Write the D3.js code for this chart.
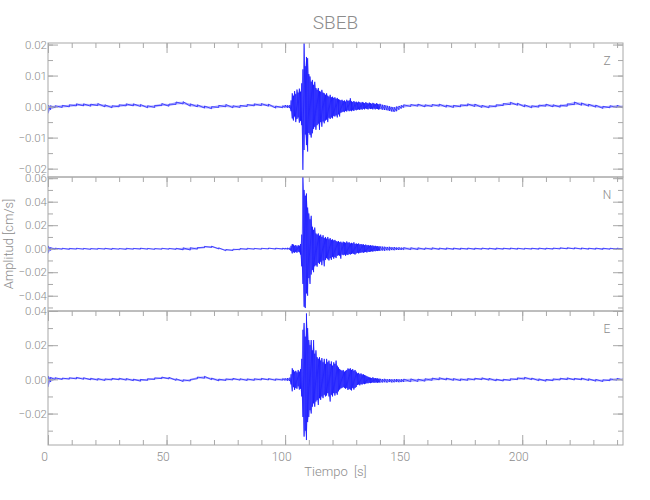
<!DOCTYPE html>
<html><head><meta charset="utf-8">
<script src="https://cdn.jsdelivr.net/npm/d3@7"></script>
<style>body{margin:0;background:#fff}</style>
</head><body><svg id="c" width="650" height="500"></svg>
<script>
// ---------------- DATA ----------------
const title = "SBEB";
const components = ["Z", "N", "E"];
// sample times in seconds (coarse in quiet parts, fine in the strong-motion part)
const timeS = [
 0,1,3,6,9,12,15,18,21,24,27,30,33,36,39,42,45,48,51,54,57,60,63,66,69,72,75,78,81,84,87,90,93,96,99,100,101,
 102,102.5,103,103.5,104,104.5,105,105.5,106,106.5,107,107.5,108,108.5,109,109.5,110,110.5,111,111.5,
 112,112.5,113,113.5,114,114.5,115,115.5,116,116.5,117,117.5,118,118.5,119,119.5,120,120.5,121,121.5,
 122,122.5,123,123.5,124,124.5,125,125.5,126,126.5,127,127.5,128,128.5,129,129.5,130,130.5,131,131.5,
 132,132.5,133,133.5,134,134.5,135,135.5,136,136.5,137,137.5,138,138.5,139,139.5,140,
 141,142,143,144,145,146,147,148,149,150,
 153,156,159,162,165,168,171,174,177,180,183,186,189,192,195,198,201,204,207,210,213,216,219,222,225,228,231,234,237,240,242.5
];
// per-sample max / min of each trace, in units of 0.001 cm/s
const zHi = [
 0.5,0.3,0.3,0.4,0.6,0.9,0.9,0.8,1.0,0.6, 0.3,0.6,0.9,0.9,0.7,0.3,0.4,1.0,0.8,1.5, 1.6,0.9,0.6,0.2,0.0,0.4,0.7,0.3,0.4,0.7, 0.9,1.0,0.8,0.2,0.3,0.5,0.4,
 0.5,2.0,4.3,3.5,5.0,4.0,5.5,4.5,5.8,4.8, 7.5,12.0,20.4,13.0,16.0,15.6,10.5,9.7,8.0,8.6, 7.0,8.0,6.0,5.4,6.0,5.0,4.8,5.4,4.5,4.3,
 3.8,4.3,3.5,3.2,3.8,3.0,3.2,2.8,3.0,2.5, 2.8,2.4,2.2,2.0,2.2,1.8,2.0,1.6,2.2,1.8, 2.0,2.7,1.7,1.5,1.8,1.4,1.6,1.3,1.6,1.4,
 1.2,1.5,1.3,1.1,1.4,1.2,1.0,1.3,1.1,0.9, 1.2,1.0,0.8,1.1,0.9,0.7,0.9,
 0.6,0.5,0.3,0.1,-0.1,-0.2,0.0,0.2,0.4,0.6,
 0.7,0.8,0.6,0.7,0.8,0.5,0.4,0.6,0.9,0.8, 0.4,0.3,0.6,1.0,1.4,1.1,0.6,0.3,0.5,0.8, 0.6,0.5,0.9,1.5,1.2,0.8,0.5,0.1,0.3,0.4, 0.3
];
const zLo = [
 -2.2,-1.0,-0.4,-0.3,-0.1,0.2,0.2,0.1,0.3,-0.1, -0.4,-0.1,0.2,0.2,0.0,-0.4,-0.3,0.3,0.1,0.7, 0.8,0.1,-0.1,-0.5,-0.7,-0.3,-0.1,-0.4,-0.3,0.0, 0.2,0.3,0.1,-0.5,-0.4,-0.3,-0.4,
 -0.5,-1.5,-3.8,-4.5,-3.2,-5.0,-4.0,-3.5,-5.2,-4.6, -6.0,-20.4,-14.0,-9.0,-12.4,-14.5,-8.5,-9.1,-10.0,-8.6, -7.2,-6.5,-7.5,-6.0,-5.5,-7.5,-5.0,-6.5,-4.8,-5.4,
 -4.5,-4.2,-5.0,-3.6,-4.0,-3.5,-3.8,-3.0,-3.2,-2.8, -3.5,-2.5,-3.2,-2.0,-1.8,-1.6,-1.8,-1.4,-1.6,-1.2, -1.5,-1.3,-1.5,-1.2,-1.4,-1.0,-1.2,-1.0,-0.9,-1.1,
 -0.8,-1.0,-0.7,-0.9,-0.6,-0.8,-0.9,-0.6,-0.8,-0.7, -0.9,-0.6,-0.9,-0.7,-0.8,-1.0,-0.8,
 -1.0,-1.1,-1.2,-1.4,-1.6,-1.7,-1.5,-1.0,-0.6,-0.3,
 0.0,0.1,-0.1,0.0,0.1,-0.2,-0.3,-0.1,0.2,0.0, -0.3,-0.4,-0.1,0.3,0.6,0.4,-0.1,-0.4,-0.2,0.1, -0.1,-0.2,0.1,0.6,0.4,0.1,-0.2,-0.6,-0.4,-0.3, -0.4
];
const nHi = [
 2.5,1.0,0.5,0.4,0.3,0.4,0.3,0.2,0.3,0.4, 0.3,0.2,0.4,0.3,0.5,0.3,0.2,0.4,0.3,0.4, 0.8,0.9,1.0,2.0,2.2,0.8,-0.6,-0.4,0.2,0.4, 0.3,0.4,0.6,0.5,0.6,0.5,0.7,
 0.8,2.5,4.0,3.5,2.5,3.1,2.0,3.0,2.5,4.0, 12.0,61.0,50.0,45.0,47.0,35.0,30.0,25.0,28.0,18.7, 16.0,18.0,13.0,12.0,13.0,11.0,12.0,10.0,11.5,9.0,
 10.0,8.5,10.0,8.0,9.0,7.5,8.0,7.0,7.5,6.5, 6.0,6.5,5.5,6.0,5.0,6.0,5.5,5.0,6.2,5.0, 5.5,4.5,5.0,4.5,5.5,4.0,4.5,4.0,4.5,3.5,
 4.0,3.5,3.8,3.0,3.5,2.8,3.2,2.6,3.0,2.5, 2.8,2.2,2.5,2.0,2.2,1.8,2.0,
 1.8,1.7,1.5,1.6,1.2,1.4,1.0,1.2,0.9,1.0,
 0.9,0.8,0.7,0.8,0.6,0.7,0.6,0.5,0.6,0.5, 0.6,0.5,0.6,0.5,0.6,0.5,0.4,0.5,0.6,0.5, 0.6,0.8,0.9,0.8,0.7,0.5,0.6,0.5,0.4,0.5, 0.5
];
const nLo = [
 -4.0,-1.5,-0.6,-0.5,-0.6,-0.4,-0.5,-0.6,-0.5,-0.4, -0.6,-0.5,-0.6,-0.5,-0.4,-0.5,-0.6,-0.5,-0.5,-0.6, -1.0,-1.2,-0.4,0.8,1.0,-0.3,-1.8,-1.6,-0.9,-0.6, -0.5,-0.5,-0.3,-0.4,-0.4,-0.5,-0.5,
 -0.8,-2.0,-4.0,-3.0,-3.5,-2.8,-3.4,-2.5,-3.0,-5.0, -15.0,-30.0,-49.4,-50.5,-38.0,-40.0,-25.0,-30.0,-22.0,-18.0, -20.0,-15.0,-14.0,-15.3,-12.0,-13.0,-11.0,-14.0,-10.0,-15.0,
 -9.6,-8.0,-9.0,-10.0,-8.0,-9.5,-7.0,-8.5,-7.0,-8.0, -6.0,-5.5,-6.0,-8.5,-5.0,-5.5,-5.0,-6.0,-5.0,-5.4, -4.5,-5.0,-4.5,-4.0,-4.5,-5.0,-4.0,-3.5,-4.0,-3.5,
 -3.4,-3.0,-3.5,-3.0,-2.8,-3.2,-2.5,-2.8,-2.5,-2.2, -2.5,-2.0,-2.2,-1.8,-2.0,-1.7,-1.8,
 -1.6,-1.8,-1.4,-1.5,-1.2,-1.3,-1.0,-1.1,-1.0,-0.9,
 -0.8,-0.8,-0.7,-0.6,-0.7,-0.6,-0.6,-0.6,-0.5,-0.6, -0.5,-0.5,-0.6,-0.5,-0.4,-0.5,-0.5,-0.4,-0.5,-0.5, -0.4,-0.3,-0.2,-0.3,-0.4,-0.5,-0.5,-0.6,-0.5,-0.4, -0.5
];
const eHi = [
 2.0,1.2,1.0,0.8,1.0,1.2,1.0,0.7,0.5,0.3, 0.6,0.7,0.5,0.2,0.0,0.4,0.9,1.4,1.2,0.4, -0.2,0.0,1.4,1.8,0.8,0.2,0.3,0.6,0.4,0.3, 0.4,0.6,0.5,0.3,0.5,0.6,0.8,
 1.0,3.0,6.5,5.5,4.5,5.0,4.0,5.5,4.5,6.0, 12.0,29.0,33.0,25.0,38.6,30.0,23.0,20.0,23.0,17.0, 23.0,15.0,17.0,13.0,12.0,13.0,11.0,12.5,10.0,12.0,
 9.0,12.0,10.0,11.0,9.0,10.5,8.0,10.0,9.0,11.0, 8.0,7.0,6.0,5.5,5.0,5.5,4.5,5.0,5.5,6.4, 6.0,6.5,5.5,6.0,5.0,5.5,4.5,3.5,3.8,3.0,
 3.5,2.8,3.0,2.5,2.2,1.8,1.5,1.2,1.0,0.8, 1.2,0.6,0.8,0.5,0.6,0.3,0.4,
 0.2,0.3,0.1,0.2,0.0,0.1,0.2,0.0,0.1,0.2,
 0.3,0.2,0.4,0.8,1.0,0.8,0.5,0.3,0.5,0.7, 0.9,0.6,0.2,0.1,0.4,0.9,1.2,0.8,0.3,0.0, 0.3,0.7,0.9,0.6,0.8,0.4,0.0,-0.2,0.3,0.6, 0.5
];
const eLo = [
 -4.5,-1.5,-0.2,-0.1,0.1,0.2,0.0,-0.3,-0.5,-0.7, -0.4,-0.3,-0.5,-0.8,-1.1,-0.6,-0.1,0.4,0.2,-0.6, -1.3,-1.0,0.3,0.6,-0.2,-0.9,-0.7,-0.4,-0.5,-0.7, -0.6,-0.4,-0.4,-0.6,-0.5,-0.6,-0.8,
 -1.0,-3.0,-7.0,-4.5,-6.2,-5.0,-5.5,-4.0,-6.0,-5.5, -10.0,-22.0,-33.5,-30.0,-35.5,-25.0,-22.0,-18.0,-20.0,-16.0, -14.0,-16.0,-13.0,-12.0,-15.0,-11.0,-12.0,-10.0,-11.0,-9.0,
 -10.0,-9.5,-8.0,-10.0,-13.0,-9.0,-10.0,-8.0,-9.5,-8.0, -9.0,-7.0,-6.0,-5.3,-5.0,-4.5,-5.0,-5.5,-5.0,-6.2, -5.5,-6.0,-6.5,-5.0,-6.0,-5.0,-4.5,-3.3,-3.0,-3.5,
 -2.8,-3.0,-2.5,-2.8,-2.5,-2.2,-2.3,-2.0,-2.2,-2.0, -1.8,-2.0,-1.9,-1.8,-2.0,-1.8,-1.9,
 -1.8,-1.7,-1.9,-1.6,-1.8,-1.7,-1.6,-1.7,-1.6,-1.5,
 -1.4,-1.3,-1.1,-0.6,-0.3,-0.4,-0.6,-0.8,-0.6,-0.4, -0.2,-0.5,-0.9,-1.0,-0.7,-0.2,0.1,-0.2,-0.8,-1.1, -0.8,-0.4,-0.2,-0.4,-0.3,-0.7,-1.1,-1.3,-0.8,-0.5, -0.5
];
// axis ranges and tick labels
const xDomain = [0, 242.5];
const xTicks = [0, 50, 100, 150, 200];
const zDomain = [-0.0227, 0.0205];
const nDomain = [-0.053, 0.061];
const eDomain = [-0.0384, 0.040];
const zTicks = [0.02, 0.01, 0.00, -0.01, -0.02];
const nTicks = [0.06, 0.04, 0.02, 0.00, -0.02, -0.04];
const eTicks = [0.04, 0.02, 0.00, -0.02];
const xLabel = "Tiempo [s]";
const yLabel = "Amplitud [cm/s]";

// ---------------- DRAW ----------------
const FONT = "Roboto,'DejaVu Sans Condensed',sans-serif";
const AX = "#a8a8a8", TXT = "#8c8c8c";
const svg = d3.select("#c");
const L = 48, R = 623, TOP = 43, PH = 134;
const x = d3.scaleLinear().domain(xDomain).range([L, R]);
const unit = v => v / 1000;
const styleText = sel => sel.attr("fill", TXT).style("font-family", FONT).style("font-weight", 300);

const panels = [
  {name: components[0], hi: zHi, lo: zLo, dom: zDomain, ticks: zTicks, minorStep: 0.005},
  {name: components[1], hi: nHi, lo: nLo, dom: nDomain, ticks: nTicks, minorStep: 0.01},
  {name: components[2], hi: eHi, lo: eLo, dom: eDomain, ticks: eTicks, minorStep: 0.01}
];
const fmt = v => (v < 0 ? "\u2212" : "") + Math.abs(v).toFixed(2);

panels.forEach((p, i) => {
  const y0 = TOP + i * PH, y1 = y0 + PH;
  const y = d3.scaleLinear().domain(p.dom).range([y1, y0]);
  const g = svg.append("g");
  const cid = "clip" + i;
  svg.append("clipPath").attr("id", cid).append("rect")
    .attr("x", L).attr("y", y0).attr("width", R - L).attr("height", PH);

  // trace: min/max band of each sample, plus the zig-zag between them
  const rows = timeS.map((t, k) => ({t, lo: unit(p.lo[k]), hi: unit(p.hi[k])}));
  const area = d3.area().x(d => x(d.t)).y0(d => y(d.lo)).y1(d => y(d.hi));
  g.append("path").attr("d", area(rows)).attr("fill", "#0000ff").attr("fill-opacity", 0.35)
    .attr("stroke", "none").attr("clip-path", `url(#${cid})`);
  const pts = [];
  rows.forEach(d => { pts.push([d.t, d.lo]); pts.push([d.t, d.hi]); });
  const line = d3.line().x(d => x(d[0])).y(d => y(d[1]));
  g.append("path").attr("d", line(pts)).attr("fill", "none")
    .attr("stroke", "#0000ff").attr("stroke-width", 0.6).attr("clip-path", `url(#${cid})`);

  // minor y ticks
  const lo = Math.ceil(p.dom[0] / p.minorStep - 1e-6), hi = Math.floor(p.dom[1] / p.minorStep + 1e-6);
  const minorY = d3.range(lo, hi + 1).map(k => k * p.minorStep);
  const yAxL = d3.axisLeft(y).tickValues(p.ticks).tickSize(-10).tickSizeOuter(0).tickPadding(1).tickFormat(fmt);
  const yAxLm = d3.axisLeft(y).tickValues(minorY).tickSize(-5).tickSizeOuter(0).tickFormat("");
  const yAxR = d3.axisRight(y).tickValues(p.ticks).tickSize(-10).tickSizeOuter(0).tickFormat("");
  const yAxRm = d3.axisRight(y).tickValues(minorY).tickSize(-5).tickSizeOuter(0).tickFormat("");
  [[yAxLm, L], [yAxL, L], [yAxRm, R], [yAxR, R]].forEach(([a, xx]) => {
    const ga = svg.append("g").attr("transform", `translate(${xx},0)`).call(a);
    ga.select(".domain").remove();
    ga.selectAll("line").attr("stroke", AX);
    ga.selectAll("text").call(styleText).style("font-size", "11.5px");
  });

  // x ticks on the top of every panel
  const minorX = d3.range(0, 241, 10);
  const xTop = d3.axisTop(x).tickValues(xTicks).tickSize(-10).tickSizeOuter(0).tickFormat("");
  const xTopm = d3.axisTop(x).tickValues(minorX).tickSize(-5).tickSizeOuter(0).tickFormat("");
  [xTopm, xTop].forEach(a => {
    const ga = svg.append("g").attr("transform", `translate(0,${y0})`).call(a);
    ga.select(".domain").remove();
    ga.selectAll("line").attr("stroke", AX);
  });
  if (i === panels.length - 1) {
    const xB = d3.axisBottom(x).tickValues(xTicks).tickSize(-10).tickSizeOuter(0).tickPadding(7).tickFormat(d3.format("d"));
    const xBm = d3.axisBottom(x).tickValues(minorX).tickSize(-5).tickSizeOuter(0).tickFormat("");
    [xBm, xB].forEach(a => {
      const ga = svg.append("g").attr("transform", `translate(0,${y1})`).call(a);
      ga.select(".domain").remove();
      ga.selectAll("line").attr("stroke", AX);
      ga.selectAll("text").call(styleText).attr("dx", -4).style("font-size", "12px");
    });
  }

  // frame
  svg.append("rect").attr("x", L).attr("y", y0).attr("width", R - L).attr("height", PH)
    .attr("fill", "none").attr("stroke", AX).attr("stroke-width", 1);

  // component label
  svg.append("text").attr("x", 607).attr("y", y0 + 19).attr("text-anchor", "middle")
    .attr("dominant-baseline", "middle").call(styleText).style("font-size", "12px").text(p.name);
});

svg.append("text").attr("x", (L + R) / 2).attr("y", 29).attr("text-anchor", "middle")
  .call(styleText).style("font-size", "19px").text(title);
svg.append("text").attr("x", (L + R) / 2).attr("y", 476).attr("text-anchor", "middle")
  .call(styleText).style("font-size", "13px").style("word-spacing", "3px").text(xLabel);
svg.append("text").attr("transform", `translate(13,${TOP + 1.5 * PH}) rotate(-90)`).attr("text-anchor", "middle")
  .call(styleText).style("font-size", "13px").text(yLabel);
</script>
</body></html>
